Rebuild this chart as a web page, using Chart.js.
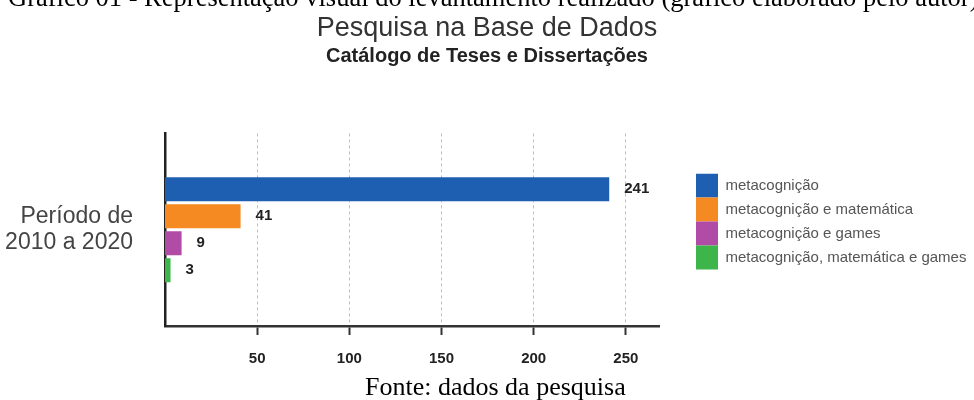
<!DOCTYPE html>
<html lang="pt">
<head>
<meta charset="utf-8">
<title>Pesquisa na Base de Dados</title>
<script src="https://cdn.jsdelivr.net/npm/chart.js@4.4.1/dist/chart.umd.min.js"></script>
<style>
  html, body { margin: 0; padding: 0; background: #fff; }
  #wrap { position: relative; width: 974px; height: 400px; overflow: hidden; }
  #caption { position: absolute; left: 8px; top: -16px; font: 26.5px/26.5px "Liberation Serif", "Times New Roman", serif; color: #000; white-space: nowrap; }
  #source { position: absolute; left: 365px; top: 374px; font: 26px/26px "Liberation Serif", "Times New Roman", serif; color: #000; white-space: nowrap; }
  canvas { position: absolute; left: 0; top: 0; }
</style>
</head>
<body>
<div id="wrap">
  <canvas id="chart" width="974" height="400"></canvas>
  <div id="caption">Gráfico 01 - Representação visual do levantamento realizado (gráfico elaborado pelo autor)</div>
  <div id="source">Fonte: dados da pesquisa</div>
</div>
<script>
var periodLabels = [['Período de', '2010 a 2020']];
var seriesNames = [
    'metacognição',
    'metacognição e matemática',
    'metacognição e games',
    'metacognição, matemática e games'
];
var seriesValues = [241, 41, 9, 3];
var xTickValues = [50, 100, 150, 200, 250];

var seriesColors = ['#1f5fb2', '#f58a22', '#b04ca6', '#3db54b'];

Chart.defaults.font.family = "'Liberation Sans', Arial, Helvetica, sans-serif";

// numbers printed just right of each bar
var barValues = {
    id: 'barValues',
    afterDatasetsDraw: function (chart) {
        var ctx = chart.ctx;
        ctx.save();
        ctx.font = 'bold 15px "Liberation Sans", Arial, sans-serif';
        ctx.fillStyle = '#222';
        ctx.textAlign = 'left';
        ctx.textBaseline = 'middle';
        chart.data.datasets.forEach(function (ds, i) {
            chart.getDatasetMeta(i).data.forEach(function (bar, j) {
                ctx.fillText(String(ds.data[j]), bar.x + 15, bar.y);
            });
        });
        ctx.restore();
    }
};

// legend sits a little away from the plot and lower than centred
var legendPlace = {
    id: 'legendPlace',
    afterInit: function (chart) {
        var legend = chart.legend;
        var fit = legend.fit;
        legend.fit = function () {
            fit.call(this);
            this.width = Math.max(this.width, 310);
        };
    },
    afterLayout: function (chart) {
        var l = chart.legend;
        var w = l.right - l.left;
        var h = l.bottom - l.top;
        l.left = chart.chartArea.right + 37;
        l.right = l.left + w;
        l.top = chart.chartArea.top + 40;
        l.bottom = l.top + h;
    }
};

var datasets = seriesNames.map(function (name, i) {
    return {
        label: name,
        data: [seriesValues[i]],
        backgroundColor: seriesColors[i],
        borderWidth: 0,
        categoryPercentage: 0.56,
        barPercentage: 0.89
    };
});

var ctx = document.getElementById('chart').getContext('2d');
var chart = new Chart(ctx, {
    type: 'bar',
    data: {
        labels: periodLabels,
        datasets: datasets
    },
    plugins: [barValues, legendPlace],
    options: {
        indexAxis: 'y',
        responsive: false,
        animation: false,
        devicePixelRatio: 1,
        layout: { padding: { left: 5, right: 5, top: 0, bottom: 32 } },
        plugins: {
            title: {
                display: true,
                text: 'Pesquisa na Base de Dados',
                color: '#333',
                font: { size: 27, weight: 'normal' },
                padding: { top: 12, bottom: 0 }
            },
            subtitle: {
                display: true,
                text: 'Catálogo de Teses e Dissertações',
                color: '#222',
                font: { size: 20, weight: 'bold' },
                padding: { top: 0, bottom: 65 }
            },
            legend: {
                position: 'right',
                align: 'start',
                labels: {
                    boxWidth: 22,
                    boxHeight: 24,
                    padding: 0,
                    color: '#555',
                    font: { size: 15 }
                }
            },
            tooltip: { enabled: false }
        },
        scales: {
            x: {
                type: 'linear',
                min: 0,
                max: 268,
                afterBuildTicks: function (scale) {
                    scale.ticks = xTickValues.map(function (v) { return { value: v }; });
                },
                afterFit: function (scale) {
                    scale.height = 42;
                },
                grid: {
                    color: '#bdbdbd',
                    lineWidth: 1,
                    drawTicks: true,
                    tickLength: 9,
                    tickColor: '#333',
                    tickWidth: 2,
                    tickBorderDash: []
                },
                border: { display: true, color: '#333', width: 2.5, dash: [3, 3] },
                ticks: {
                    color: '#222',
                    padding: 15,
                    font: { size: 15, weight: 'bold' }
                }
            },
            y: {
                afterFit: function (scale) {
                    scale.width = 160;
                },
                grid: { display: false, drawTicks: false },
                border: { display: true, color: '#222', width: 2.5 },
                ticks: {
                    color: '#444',
                    padding: 32,
                    font: { size: 23, lineHeight: 1.13 }
                }
            }
        }
    }
});
</script>
</body>
</html>
